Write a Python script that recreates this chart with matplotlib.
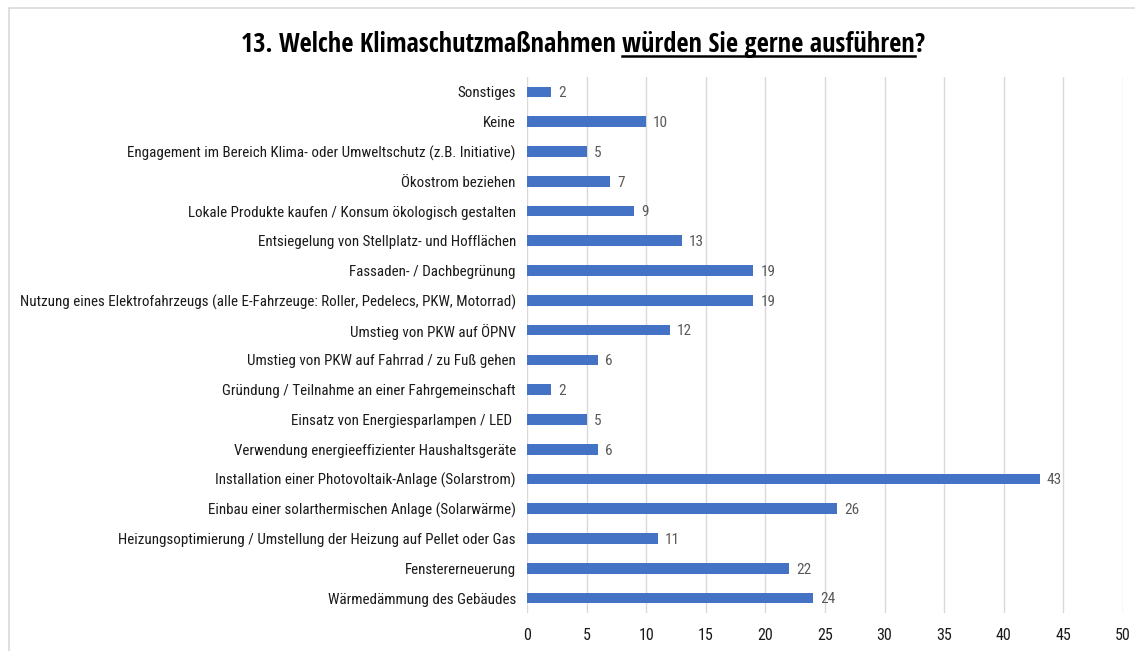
import matplotlib
matplotlib.use("Agg")
import matplotlib.pyplot as plt
from matplotlib.patches import Rectangle
from matplotlib.lines import Line2D

# Daten (von oben nach unten wie im Original)
kategorien = [
    "Sonstiges",
    "Keine",
    "Engagement im Bereich Klima- oder Umweltschutz (z.B. Initiative)",
    "Ökostrom beziehen",
    "Lokale Produkte kaufen / Konsum ökologisch gestalten",
    "Entsiegelung von Stellplatz- und Hofflächen",
    "Fassaden- / Dachbegrünung",
    "Nutzung eines Elektrofahrzeugs (alle E-Fahrzeuge: Roller, Pedelecs, PKW, Motorrad)",
    "Umstieg von PKW auf ÖPNV",
    "Umstieg von PKW auf Fahrrad / zu Fuß gehen",
    "Gründung / Teilnahme an einer Fahrgemeinschaft",
    "Einsatz von Energiesparlampen / LED ",
    "Verwendung energieeffizienter Haushaltsgeräte",
    "Installation einer Photovoltaik-Anlage (Solarstrom)",
    "Einbau einer solarthermischen Anlage (Solarwärme)",
    "Heizungsoptimierung / Umstellung der Heizung auf Pellet oder Gas",
    "Fenstererneuerung",
    "Wärmedämmung des Gebäudes",
]
werte = [2, 10, 5, 7, 9, 13, 19, 19, 12, 6, 2, 5, 6, 43, 26, 11, 22, 24]
x_ticks = list(range(0, 55, 5))

titel_vorne = "13. Welche Klimaschutzmaßnahmen "
titel_unterstrichen = "würden Sie gerne ausführen"
titel_hinten = "?"

plt.rcParams['font.family'] = ['Roboto Condensed', 'Liberation Sans', 'DejaVu Sans']
titel_font = ['Open Sans Condensed', 'Roboto Condensed', 'DejaVu Sans']

fig = plt.figure(figsize=(11.35, 6.51), dpi=100)
ax = fig.add_axes([0.4643, 0.0584, 0.5251, 0.8233])

# Rahmen um das Diagramm (rechts/unten abgeschnitten)
fig.patches.append(Rectangle((9 / 1135, -0.1), 1.2, 1.1 - 8 / 651, transform=fig.transFigure,
                             fill=False, edgecolor="#d9d9d9", linewidth=1.2))

y = list(range(len(kategorien)))
ax.barh(y, werte, height=0.36, color="#4472C4", zorder=3)
for yi, w in zip(y, werte):
    ax.annotate(str(w), (w, yi), xytext=(5, -1), textcoords="offset points",
                va="center", ha="left", fontsize=11, color="#595959")

ax.set_yticks(y)
ax.set_yticklabels(kategorien, fontsize=10.8, color="#1a1a1a")
ax.set_ylim(len(kategorien) - 0.5, -0.5)
ax.set_xlim(0, 50)
ax.set_xticks(x_ticks)
ax.tick_params(axis="x", labelsize=11.5, colors="#1a1a1a", length=0, pad=11)
ax.tick_params(axis="y", length=0, pad=8)
ax.grid(axis="x", color="#d9d9d9", linewidth=1, zorder=0)
for s in ax.spines.values():
    s.set_visible(False)

# Titel mit teilweiser Unterstreichung
kw = dict(fontsize=19, fontweight="bold", color="black", va="baseline", ha="left",
          family=titel_font)
renderer = fig.canvas.get_renderer()
teile = [titel_vorne, titel_unterstrichen, titel_hinten]
texte = [fig.text(0, 0, t, **kw) for t in teile]
breiten = [t.get_window_extent(renderer).width for t in texte]
gesamt = fig.text(0, 0, "".join(teile), **kw)
gesamt_breite = gesamt.get_window_extent(renderer).width
gesamt.remove()
start = (583 - gesamt_breite / 2)
basis = 1 - 52 / 651
xpos = start
for t, b in zip(texte, breiten):
    t.set_position((xpos / 1135, basis))
    xpos += b
u_start = (start + breiten[0]) / 1135
u_end = (start + breiten[0] + breiten[1]) / 1135
fig.lines.append(Line2D([u_start, u_end], [basis - 4 / 651] * 2, transform=fig.transFigure,
                        color="black", linewidth=1.8))

fig.savefig("out.png", dpi=100)
